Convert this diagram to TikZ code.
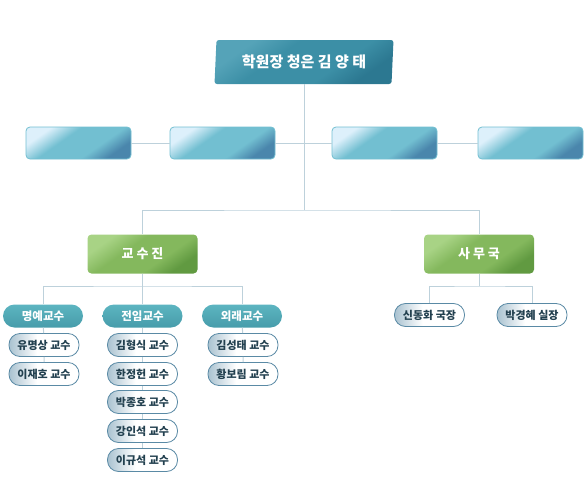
\documentclass[tikz,border=0pt]{standalone}
\usepackage{fontspec}
\setmainfont{Noto Sans CJK KR}
\usetikzlibrary{shapes.geometric}
\definecolor{trait}{HTML}{BDD1DB}
\definecolor{tealclair}{HTML}{55A3B8}
\definecolor{tealmoyen}{HTML}{3C8FA6}
\definecolor{tealfonce}{HTML}{2C7891}
\definecolor{bleuclair}{HTML}{DDF0FB}
\definecolor{bleumoyen}{HTML}{72BFD1}
\definecolor{bleufonce}{HTML}{4A86AC}
\definecolor{vertclair}{HTML}{A8D385}
\definecolor{vertmoyen}{HTML}{84B85D}
\definecolor{vertfonce}{HTML}{619A41}
\definecolor{pastille}{HTML}{5CB5C1}
\definecolor{pastillebas}{HTML}{479CAA}
\definecolor{bordnom}{HTML}{5A8AA5}
\definecolor{ombrenom}{HTML}{A9C2D0}
\definecolor{textenom}{HTML}{22404F}
\pgfdeclarehorizontalshading{refletchef}{100bp}{color(0bp)=(tealclair); color(27bp)=(tealclair);
  color(40bp)=(tealmoyen); color(61bp)=(tealmoyen); color(73bp)=(tealfonce); color(100bp)=(tealfonce)}
\pgfdeclarehorizontalshading{refletbleu}{100bp}{color(0bp)=(bleuclair); color(27bp)=(bleuclair);
  color(41bp)=(bleumoyen); color(61bp)=(bleumoyen); color(73bp)=(bleufonce); color(100bp)=(bleufonce)}
\pgfdeclarehorizontalshading{refletvert}{100bp}{color(0bp)=(vertclair); color(27bp)=(vertclair);
  color(41bp)=(vertmoyen); color(61bp)=(vertmoyen); color(73bp)=(vertfonce); color(100bp)=(vertfonce)}
\pgfdeclarehorizontalshading{refletnom}{100bp}{color(0bp)=(ombrenom); color(25bp)=(ombrenom);
  color(45bp)=(white); color(100bp)=(white)}
\begin{document}
\begin{tikzpicture}[x=1pt,y=-1pt,
  lien/.style={draw=trait,line width=1pt},
  chef/.style={trapezium,trapezium left angle=82,trapezium right angle=98,
    trapezium stretches body,minimum width=179pt,minimum height=44pt,inner sep=0pt,
    rounded corners=2.5pt,shading=refletchef,shading angle=-55,
    text=white,font=\bfseries\fontsize{15}{17}\selectfont},
  cadre/.style={draw=bleumoyen,line width=0.8pt,rounded corners=4pt,
    minimum width=105pt,minimum height=32pt,shading=refletbleu,shading angle=-55},
  groupe/.style={rounded corners=4pt,minimum width=110pt,minimum height=39pt,
    shading=refletvert,shading angle=-55,
    text=white,font=\bfseries\fontsize{13}{15}\selectfont},
  titre/.style={rounded corners=11.5pt,minimum width=80pt,minimum height=23pt,inner sep=0pt,
    top color=pastille,bottom color=pastillebas,
    text=white,font=\bfseries\fontsize{11.5}{13}\selectfont},
  membre/.style={draw=bordnom,line width=0.8pt,rounded corners=11pt,
    minimum width=70pt,minimum height=23pt,inner sep=0pt,shading=refletnom,
    text=textenom,font=\bfseries\fontsize{11}{13}\selectfont}]
\useasboundingbox (0,0) rectangle (584,479);
% direction
\node[chef] (dir) at (304,62) {학원장 청은 김 양 태};
\node[cadre] (c1) at (78.5,143) {};
\node[cadre] (c2) at (222.5,143) {};
\node[cadre] (c3) at (384.5,143) {};
\node[cadre] (c4) at (530.5,143) {};
\coordinate (jn) at (304,210);
% groupes
\node[groupe] (prof) at (142.5,254) {교 수 진};
\node[groupe] (bur) at (479,254) {사 무 국};
\coordinate (jp) at (142.5,286);
\coordinate (jb) at (479,286);
% professeurs
\node[titre] (hon) at (43,316) {명예교수};
\node[titre] (ple) at (142.5,316) {전임교수};
\node[titre] (ext) at (242,316) {외래교수};
\node[membre] (hon1) at (44,345) {유명상 교수};
\node[membre] (hon2) at (44,374) {이재호 교수};
\node[membre] (ple1) at (142.5,345) {김형식 교수};
\node[membre] (ple2) at (142.5,374) {한정헌 교수};
\node[membre] (ple3) at (142.5,402) {박종호 교수};
\node[membre] (ple4) at (142.5,431) {강인석 교수};
\node[membre] (ple5) at (142.5,460) {이규석 교수};
\node[membre] (ext1) at (243,345) {김성태 교수};
\node[membre] (ext2) at (243,374) {황보림 교수};
% bureau
\node[membre] (bur1) at (429.5,315) {신동화 국장};
\node[membre] (bur2) at (532,315) {박경혜 실장};
% liens
\draw[lien] (dir) -- (jn);
\draw[lien] (c1) -- (c2) (c2) -- (c3) (c3) -- (c4);
\draw[lien] (prof) |- (jn) -| (bur);
\draw[lien] (prof) -- (jp);
\draw[lien] (hon) |- (jp) -| (ext);
\draw[lien] (ple) -- (jp);
\draw[lien] (hon) -- (hon1) -- (hon2);
\draw[lien] (ple) -- (ple1) -- (ple2) -- (ple3) -- (ple4) -- (ple5);
\draw[lien] (ext) -- (ext1) -- (ext2);
\draw[lien] (bur) -- (jb);
\draw[lien] (bur1) |- (jb) -| (bur2);
\end{tikzpicture}
\end{document}
